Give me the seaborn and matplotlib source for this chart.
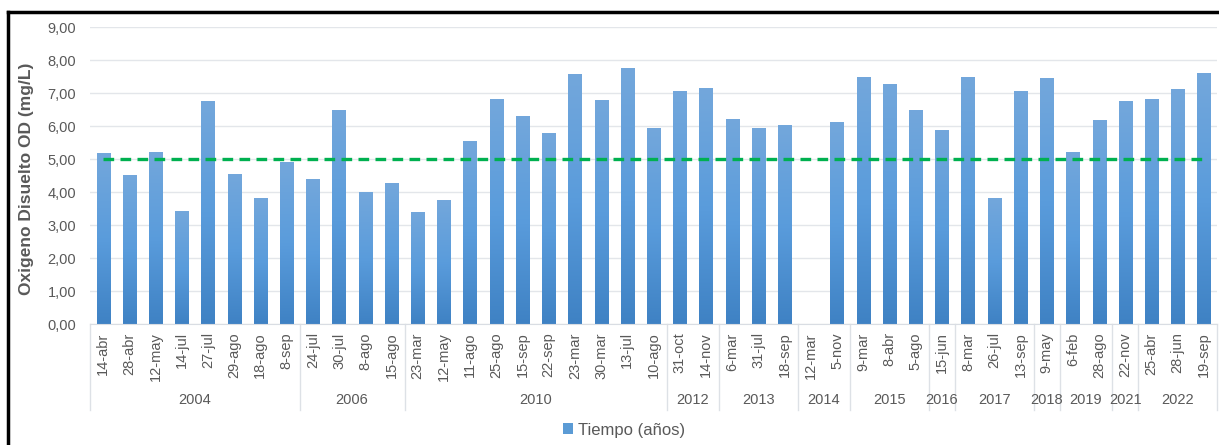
import numpy as np
import pandas as pd
import seaborn as sns
import matplotlib.pyplot as plt
from matplotlib.lines import Line2D
from matplotlib.patches import Patch
from matplotlib.colors import LinearSegmentedColormap

# Datos: fechas de muestreo agrupadas por año
anios = ["2004", "2006", "2010", "2012", "2013", "2014", "2015", "2016",
         "2017", "2018", "2019", "2021", "2022"]
fechas = [
    ["14-abr", "28-abr", "12-may", "14-jul", "27-jul", "29-ago", "18-ago", "8-sep"],
    ["24-jul", "30-jul", "8-ago", "15-ago"],
    ["23-mar", "12-may", "11-ago", "25-ago", "15-sep", "22-sep", "23-mar", "30-mar", "13-jul", "10-ago"],
    ["31-oct", "14-nov"],
    ["6-mar", "31-jul", "18-sep"],
    ["12-mar", "5-nov"],
    ["9-mar", "8-abr", "5-ago"],
    ["15-jun"],
    ["8-mar", "26-jul", "13-sep"],
    ["9-may"],
    ["6-feb", "28-ago"],
    ["22-nov"],
    ["25-abr", "28-jun", "19-sep"],
]
od = [5.18, 4.52, 5.22, 3.42, 6.75, 4.55, 3.83, 4.91,
      4.39, 6.48, 3.99, 4.28,
      3.40, 3.75, 5.55, 6.82, 6.32, 5.78, 7.59, 6.78, 7.76, 5.95,
      7.08, 7.15,
      6.23, 5.94, 6.03,
      np.nan, 6.12,
      7.50, 7.27, 6.50,
      5.88,
      7.50, 3.83, 7.06,
      7.45,
      5.22, 6.18,
      6.75,
      6.84, 7.12, 7.62]
limite = 5.0

etiquetas = [f for grupo in fechas for f in grupo]
n = len(etiquetas)
df = pd.DataFrame({"idx": np.arange(n), "od": od})

plt.rcParams["font.family"] = ["Liberation Sans", "DejaVu Sans"]
gris = "#595959"

fig = plt.figure(figsize=(12.19, 4.45), dpi=100)
W, H = 1219, 445
ax = fig.add_axes([90 / W, 1 - 324 / H, (1217 - 90) / W, (324 - 27.3) / H])

sns.barplot(data=df, x="idx", y="od", order=list(range(n)), color="#5B9BD5",
            width=0.5, ax=ax, saturation=1)

# degradado vertical en las barras
cmap = LinearSegmentedColormap.from_list("g", ["#3f82c4", "#5a9cdc", "#73a7db"])
grad = np.linspace(0, 1, 100).reshape(-1, 1)
for p in list(ax.patches):
    h = p.get_height()
    if not np.isfinite(h) or h <= 0:
        continue
    x0 = p.get_x()
    im = ax.imshow(grad, cmap=cmap, aspect="auto", origin="lower",
                   extent=[x0, x0 + p.get_width(), 0, h], zorder=2)
    im.set_clip_path(p)
    p.set_facecolor("none")
    p.set_edgecolor("none")

sns.lineplot(x=np.arange(n), y=[limite] * n, color="#00B050", linewidth=2.4,
             ax=ax, zorder=3)
ax.lines[-1].set_dashes((3.2, 1.9))

ax.set_xlim(-0.5, n - 0.5)
ax.set_ylim(0, 9)
ax.set_yticks(np.arange(0, 10, 1))
ax.set_yticklabels([f"{v:.2f}".replace(".", ",") for v in range(10)],
                   color=gris, fontsize=10.5)
ax.yaxis.grid(True, color="#e3e6ea", linewidth=1)
ax.set_axisbelow(True)
for s in ["left", "right", "top"]:
    ax.spines[s].set_visible(False)
ax.spines["bottom"].set_color("#d9dde3")
ax.tick_params(axis="y", length=0, pad=10)

ax.set_xticks(np.arange(n))
ax.set_xticklabels(etiquetas, rotation=90, color=gris, fontsize=10.5)
ax.tick_params(axis="x", length=0, pad=6)
ax.set_xlabel("")
ax.set_ylabel("Oxigeno Disuelto OD (mg/L)", fontsize=12.5, fontweight="bold",
              color=gris)
ax.yaxis.set_label_coords(-56 / 1127, 0.49)

# eje de dos niveles: años y separadores
hax = 324 - 27.3
yb = -(410 - 324) / hax
ylab = -(400 - 324) / hax
tr = ax.get_xaxis_transform()
pos = 0
bordes = [-0.5]
for anio, grupo in zip(anios, fechas):
    k = len(grupo)
    ax.text(pos + (k - 1) / 2, ylab, anio, transform=tr, ha="center", va="center",
            fontsize=10.5, color=gris)
    pos += k
    bordes.append(pos - 0.5)
for b in bordes:
    ax.plot([b, b], [0, yb], transform=tr, color="#dde1e6", linewidth=1,
            clip_on=False)

fig.legend(handles=[Patch(facecolor="#5B9BD5", label="Tiempo (años)")],
           loc="center", bbox_to_anchor=(624 / W, 1 - 430 / H), frameon=False,
           fontsize=12, handlelength=0.6, handleheight=0.6, handletextpad=0.3,
           labelcolor=gris)

# marco
fig.add_artist(Line2D([8 / W, 1], [1 - 12 / H, 1 - 12 / H], color="black",
                      linewidth=2.5, transform=fig.transFigure))
fig.add_artist(Line2D([8 / W, 8 / W], [0, 1 - 12 / H], color="black",
                      linewidth=2.5, transform=fig.transFigure))

fig.savefig("out.png", dpi=100)
